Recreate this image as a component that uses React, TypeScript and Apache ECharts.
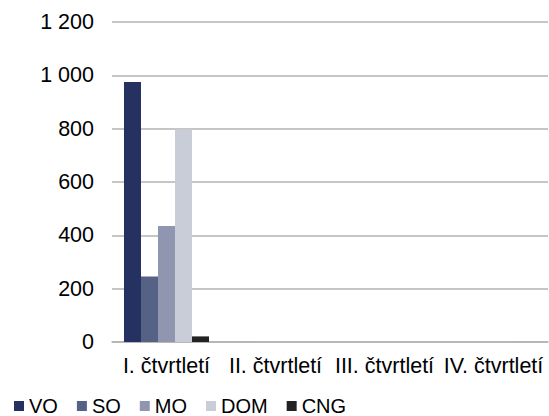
import React, { useEffect, useRef } from "react";
import * as echarts from "echarts";

const categories = ["I. čtvrtletí", "II. čtvrtletí", "III. čtvrtletí", "IV. čtvrtletí"];
const seriesNames = ["VO", "SO", "MO", "DOM", "CNG"];
const seriesColors = ["#253261", "#566186", "#9096b0", "#c9cdd8", "#222222"];
const voValues = [975, null, null, null];
const soValues = [246, null, null, null];
const moValues = [435, null, null, null];
const domValues = [797, null, null, null];
const cngValues = [21, null, null, null];
const yTicks = [0, 200, 400, 600, 800, 1000, 1200];

const FONT = "Liberation Sans, Arial, sans-serif";

export default function App() {
  const ref = useRef<HTMLDivElement>(null);
  useEffect(() => {
    if (!ref.current) return;
    const chart = echarts.init(ref.current, null, { renderer: "svg" });
    const data = [voValues, soValues, moValues, domValues, cngValues];
    chart.setOption({
      animation: false,
      backgroundColor: "#ffffff",
      grid: { left: 112, right: 1, top: 22, bottom: 74, containLabel: false },
      legend: {
        left: 14,
        top: 396,
        padding: 0,
        itemWidth: 10,
        itemHeight: 10,
        itemGap: 19,
        icon: "rect",
        textStyle: { fontFamily: FONT, fontSize: 20, color: "#000" },
        data: seriesNames,
      },
      xAxis: {
        type: "category",
        data: categories,
        axisLine: { show: true, lineStyle: { color: "#b3b3b3", width: 1.5 } },
        axisTick: { show: false },
        axisLabel: { fontFamily: FONT, fontSize: 21.5, color: "#000", margin: 13, interval: 0 },
      },
      yAxis: {
        type: "value",
        min: 0,
        max: 1200,
        interval: 200,
        axisLine: { show: false },
        axisTick: { show: false },
        splitLine: { lineStyle: { color: "#b3b3b3", width: 1.5 } },
        axisLabel: {
          fontFamily: FONT,
          fontSize: 21.5,
          color: "#000",
          margin: 18,
          formatter: (v: number) => (yTicks.includes(v) ? String(v).replace(/\B(?=(\d{3})+(?!\d))/g, " ") : ""),
        },
      },
      series: seriesNames.map((name, i) => ({
        name,
        type: "bar",
        data: data[i],
        barGap: "0%",
        barCategoryGap: "22%",
        itemStyle: { color: seriesColors[i] },
      })),
    });
    return () => chart.dispose();
  }, []);
  return <div ref={ref} style={{ width: 549, height: 416, position: "absolute", left: 0, top: 0 }} />;
}
